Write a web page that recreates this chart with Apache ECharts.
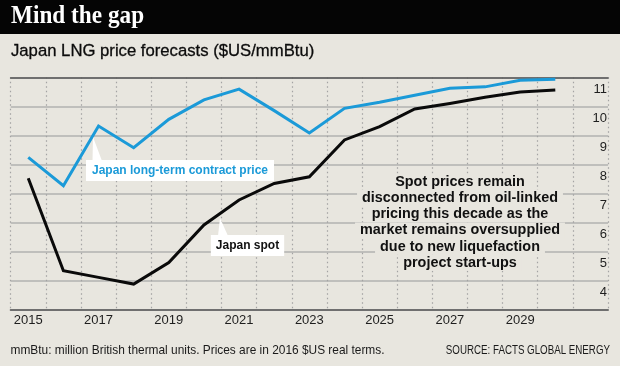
<!DOCTYPE html>
<html><head><meta charset="utf-8">
<script src="https://cdn.jsdelivr.net/npm/echarts@6/dist/echarts.min.js"></script>
<style>html,body{margin:0;padding:0;background:#e8e6df}#c{width:620px;height:366px}</style>
</head><body><div id="c"></div>
<script>
// ---- data ----
const years = ['2015','2016','2017','2018','2019','2020','2021','2022','2023','2024','2025','2026','2027','2028','2029','2030','2031'];
const yearLabels = ['2015','2017','2019','2021','2023','2025','2027','2029'];
const contractPrice = [9.24, 8.26, 10.32, 9.57, 10.55, 11.22, 11.59, 10.85, 10.08, 10.93, 11.14, 11.38, 11.62, 11.67, 11.90, 11.93];
const spotPrice = [8.52, 5.33, 5.10, 4.87, 5.61, 6.91, 7.77, 8.34, 8.57, 9.84, 10.30, 10.91, 11.10, 11.31, 11.49, 11.56];
const yTickLabels = ['4','5','6','7','8','9','10','11'];
const noteLines = ['Spot prices remain','disconnected from oil-linked','pricing this decade as the','market remains oversupplied','due to new liquefaction','project start-ups'];
const titleText = 'Mind the gap';
const subtitleText = 'Japan LNG price forecasts ($US/mmBtu)';
const footText = 'mmBtu: million British thermal units. Prices are in 2016 $US real terms.';
const sourceText = 'SOURCE: FACTS GLOBAL ENERGY';
const contractName = 'Japan long-term contract price';
const spotName = 'Japan spot';

// ---- style ----
const BG = '#e8e6df';
const BLUE = '#1b9ad8';
const SANS = '"Liberation Sans", Arial, sans-serif';

const chart = echarts.init(document.getElementById('c'), null, {renderer: 'canvas'});

const graphics = [
  {type: 'rect', z: 1, shape: {x: 0, y: 0, width: 620, height: 34}, style: {fill: '#050505'}},
  {type: 'text', z: 2, x: 11, y: 16.5, scaleX: 0.93,
   style: {text: titleText, fill: '#fff', font: 'bold 25px "Liberation Serif", serif', verticalAlign: 'middle', align: 'left'}},
  {type: 'text', z: 2, x: 11, y: 51.5,
   style: {text: subtitleText, fill: '#0c0c0c', font: '16.7px ' + SANS, verticalAlign: 'middle', align: 'left',
           stroke: '#0c0c0c', lineWidth: 0.3}},
  {type: 'text', z: 2, x: 10.5, y: 351,
   style: {text: footText, fill: '#1a1a1a', font: '11.9px ' + SANS, verticalAlign: 'middle', align: 'left'}},
  {type: 'text', z: 2, x: 610, y: 351, scaleX: 0.82,
   style: {text: sourceText, fill: '#1a1a1a', font: '11.9px ' + SANS, verticalAlign: 'middle', align: 'right'}},
  // callout pointers
  {type: 'polygon', z: 50, shape: {points: [[93, 137], [92.5, 161], [102, 161]]}, style: {fill: '#fff'}},
  {type: 'polygon', z: 50, shape: {points: [[220, 218], [218, 236], [228, 236]]}, style: {fill: '#fff'}},
  {type: 'text', z: 51, x: 180, y: 170.5,
   style: {text: contractName, fill: BLUE, font: 'bold 12px ' + SANS, align: 'center', verticalAlign: 'middle',
           backgroundColor: '#fff', padding: [4, 6, 5, 6]}},
  {type: 'text', z: 51, x: 247.5, y: 245.5,
   style: {text: spotName, fill: '#111', font: 'bold 12px ' + SANS, align: 'center', verticalAlign: 'middle',
           backgroundColor: '#fff', padding: [4, 5, 5, 5]}}
];
noteLines.forEach(function (t, i) {
  graphics.push({type: 'text', z: 40, x: 460, y: 181.8 + i * 16.2,
    style: {text: t, fill: '#111', font: 'bold 14.4px ' + SANS, align: 'center', verticalAlign: 'middle',
            backgroundColor: BG, padding: [1, 5, 1, 5]}});
});

chart.setOption({
  backgroundColor: BG,
  animation: false,
  grid: {left: 10.7, right: 12, top: 77.3, bottom: 56.7, containLabel: false},
  xAxis: [{
    type: 'category', data: years, boundaryGap: true,
    axisLine: {show: true, lineStyle: {color: '#6f6f6f', width: 2}},
    axisTick: {show: false},
    axisLabel: {
      color: '#1e1e1e', fontSize: 13, fontFamily: SANS, margin: 5,
      interval: function (idx, val) { return yearLabels.indexOf(val) >= 0; }
    },
    splitLine: {show: true, interval: 0, lineStyle: {color: '#a3a3a3', width: 1.2, type: [1.5, 3]}}
  }, {
    type: 'category', data: years, position: 'top', boundaryGap: true,
    axisLine: {show: true, lineStyle: {color: '#555', width: 1.5}},
    axisTick: {show: false}, axisLabel: {show: false}, splitLine: {show: false}
  }],
  yAxis: {
    type: 'value', min: 4, max: 12, interval: 1, position: 'right',
    axisLine: {show: false}, axisTick: {show: false},
    axisLabel: {
      inside: true, margin: 1, color: '#1e1e1e', fontSize: 13, fontFamily: SANS,
      verticalAlign: 'bottom', padding: [0, 0, 10, 0],
      formatter: function (v) { var s = String(v); return yTickLabels.indexOf(s) >= 0 ? s : ''; }
    },
    splitLine: {show: true, lineStyle: {color: '#b2b2b0', width: 1.5}}
  },
  series: [
    {name: contractName, type: 'line', data: contractPrice, symbol: 'none', z: 5,
     lineStyle: {color: BLUE, width: 3, join: 'miter'}},
    {name: spotName, type: 'line', data: spotPrice, symbol: 'none', z: 5,
     lineStyle: {color: '#0a0a0a', width: 3, join: 'miter'}}
  ],
  graphic: graphics
});
</script></body></html>
